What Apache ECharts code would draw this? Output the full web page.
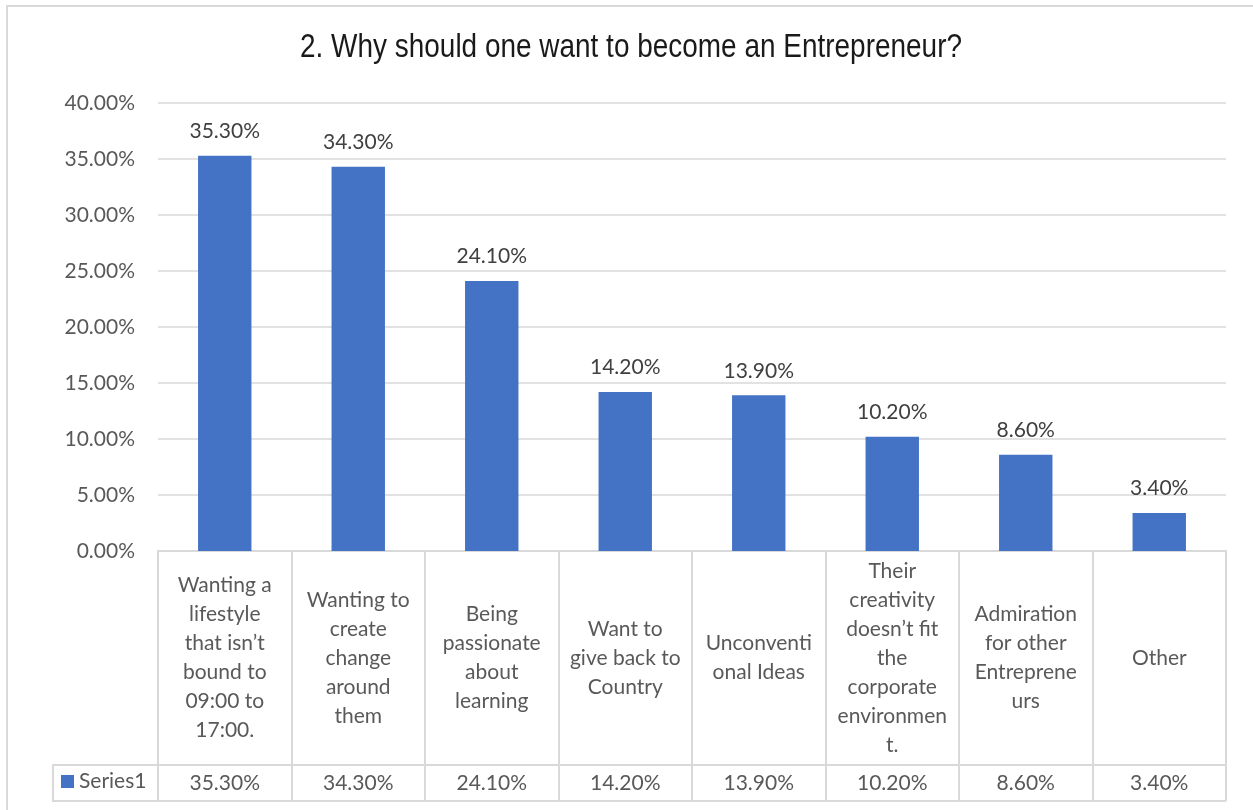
<!DOCTYPE html>
<html>
<head>
<meta charset="utf-8">
<title>Why should one want to become an Entrepreneur?</title>
<script src="https://cdn.jsdelivr.net/npm/echarts@6/dist/echarts.min.js"></script>
<style>
  html, body { margin: 0; padding: 0; background: #ffffff; }
  #chart { width: 1253px; height: 810px; }
</style>
</head>
<body>
<div id="chart"></div>
<script>
// Survey answers (wrapped as they appear in the data table)
const categories = [
  'Wanting a\nlifestyle\nthat isn\u2019t\nbound to\n09:00 to\n17:00.',
  'Wanting to\ncreate\nchange\naround\nthem',
  'Being\npassionate\nabout\nlearning',
  'Want to\ngive back to\nCountry',
  'Unconventi\nonal Ideas',
  'Their\ncreativity\ndoesn\u2019t fit\nthe\ncorporate\nenvironmen\nt.',
  'Admiration\nfor other\nEntreprene\nurs',
  'Other'
];
// Share of respondents, in percent
const values = [35.3, 34.3, 24.1, 14.2, 13.9, 10.2, 8.6, 3.4];
const seriesName = 'Series1';
const chartTitle = '2. Why should one want to become an Entrepreneur?';

const pct = v => Number(v).toFixed(2) + '%';
const FONT = 'Lato, "Open Sans", sans-serif';
const GRID_COLOR = '#d9d9d9';
const TEXT_COLOR = '#595959';
const BAR_COLOR = '#4472c4';

// Title is set in a narrow face: squeeze a regular sans to the wanted width
const TITLE_FONT = '33px "Liberation Sans", Arial, sans-serif';
const TITLE_WIDTH = 662;
const measureCtx = document.createElement('canvas').getContext('2d');
measureCtx.font = TITLE_FONT;
const titleScale = TITLE_WIDTH / measureCtx.measureText(chartTitle).width;

const chart = echarts.init(document.getElementById('chart'), null, { renderer: 'canvas' });

chart.setOption({
  animation: false,
  backgroundColor: '#ffffff',
  legend: {
    data: [seriesName],
    left: 61,
    top: 771,
    padding: 0,
    icon: 'rect',
    itemWidth: 13,
    itemHeight: 13,
    textStyle: { fontFamily: FONT, fontSize: 21, color: TEXT_COLOR }
  },
  grid: { left: 158, right: 27, top: 103, bottom: 259, containLabel: false },
  xAxis: [
    {
      type: 'category',
      data: categories,
      position: 'bottom',
      axisLine: { show: true, lineStyle: { color: GRID_COLOR, width: 2 } },
      axisTick: { show: true, interval: 0, length: 214, lineStyle: { color: GRID_COLOR, width: 2 } },
      axisLabel: {
        interval: 0,
        margin: 107,
        verticalAlign: 'middle',
        lineHeight: 29,
        fontFamily: FONT,
        fontSize: 21,
        color: TEXT_COLOR
      }
    },
    {
      // value row of the data table under the category cells
      type: 'category',
      data: values.map(pct),
      position: 'bottom',
      offset: 214,
      axisLine: { show: true, lineStyle: { color: GRID_COLOR, width: 2 } },
      axisTick: { show: true, interval: 0, length: 36, lineStyle: { color: GRID_COLOR, width: 2 } },
      axisLabel: {
        interval: 0,
        margin: 18,
        verticalAlign: 'middle',
        fontFamily: FONT,
        fontSize: 21,
        color: TEXT_COLOR
      }
    }
  ],
  yAxis: {
    type: 'value',
    min: 0,
    max: 40,
    interval: 5,
    axisLine: { show: false },
    axisTick: { show: false },
    axisLabel: {
      margin: 23,
      formatter: v => pct(v),
      fontFamily: FONT,
      fontSize: 21,
      color: TEXT_COLOR
    },
    splitLine: { lineStyle: { color: GRID_COLOR, width: 1.5 } }
  },
  series: [
    {
      name: seriesName,
      type: 'bar',
      xAxisIndex: 0,
      data: values,
      barCategoryGap: '60%',
      itemStyle: { color: BAR_COLOR },
      label: {
        show: true,
        position: 'top',
        distance: 14,
        formatter: p => pct(p.value),
        fontFamily: FONT,
        fontSize: 21,
        color: '#404040'
      }
    }
  ],
  graphic: [
    {
      type: 'rect',
      silent: true,
      shape: { x: 7, y: 6, width: 1300, height: 860 },
      style: { fill: null, stroke: GRID_COLOR, lineWidth: 2 }
    },
    {
      type: 'polyline',
      silent: true,
      shape: { points: [[158, 765], [53, 765], [53, 801], [1226, 801]] },
      style: { fill: null, stroke: GRID_COLOR, lineWidth: 2 }
    },
    {
      type: 'text',
      silent: true,
      x: 631,
      y: 48,
      scaleX: titleScale,
      style: {
        text: chartTitle,
        x: 0,
        y: 0,
        font: TITLE_FONT,
        fill: '#1a1a1a',
        textAlign: 'center',
        textVerticalAlign: 'middle'
      }
    }
  ]
});
</script>
</body>
</html>
